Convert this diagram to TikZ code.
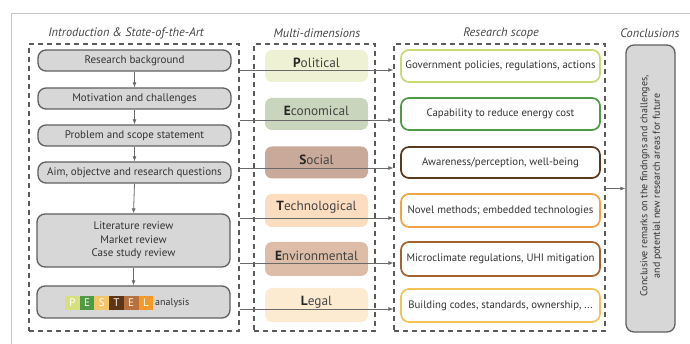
\documentclass[tikz,border=0pt]{standalone}
\usepackage{fontspec}
\setmainfont{PT Sans}
\usetikzlibrary{arrows.meta}
\definecolor{txt}{HTML}{333333}
\definecolor{ttl}{HTML}{444444}
\definecolor{dsh}{HTML}{5A5A5A}
\definecolor{gbox}{HTML}{D7D7D7}
\definecolor{gbord}{HTML}{606060}
\definecolor{cnn}{HTML}{6A6A6A}
\definecolor{fP}{HTML}{EEF1D4}
\definecolor{fE}{HTML}{C9D5BC}
\definecolor{fS}{HTML}{C9A999}
\definecolor{fT}{HTML}{FCDDC0}
\definecolor{fEn}{HTML}{DDBDA7}
\definecolor{fL}{HTML}{FDEBD1}
\definecolor{bP}{HTML}{C8DA72}
\definecolor{bE}{HTML}{4F9A45}
\definecolor{bS}{HTML}{5A3A1E}
\definecolor{bT}{HTML}{F0A442}
\definecolor{bEn}{HTML}{A5622C}
\definecolor{bL}{HTML}{F4C256}
\definecolor{sqP}{HTML}{D6E07C}
\definecolor{sqE}{HTML}{4F9A45}
\definecolor{sqS}{HTML}{F4C66A}
\definecolor{sqT}{HTML}{5C3514}
\definecolor{sqEn}{HTML}{B8703C}
\definecolor{sqL}{HTML}{F39A2A}
\tikzset{
  dashbox/.style={draw=dsh, line width=1.3pt, dash pattern=on 5pt off 4pt, minimum width=#1, inner sep=0pt},
  leftbox/.style={draw=gbord, fill=gbox, line width=1.3pt, rounded corners=8pt, text=txt, font=\fontsize{11}{13}\selectfont, minimum width=193pt, inner sep=0pt, align=center},
  dimbox/.style={fill=#1, rounded corners=7pt, minimum width=103pt, minimum height=32pt, inner sep=0pt},
  dimtext/.style={text=ttl, font=\fontsize{13.3}{15}\selectfont, inner sep=0pt},
  scopebox/.style={draw=#1, fill=white, line width=1.7pt, rounded corners=8pt, minimum width=199pt, minimum height=31pt, inner sep=0pt, text=txt, font=\fontsize{10.8}{12}\selectfont},
  coltitle/.style={text=ttl, font=\fontsize{12.3}{14}\selectfont\itshape, inner sep=0pt},
  conn/.style={draw=cnn, line width=0.8pt, -{Latex[length=5pt,width=4pt]}},
  sq/.style={fill=#1, text=white, minimum width=14.7pt, minimum height=14pt, inner sep=0pt, font=\fontsize{11}{12}\selectfont},
}
\begin{document}
\begin{tikzpicture}[x=1pt,y=-1pt]
\useasboundingbox (0,0) rectangle (690,344);
\draw[gray!45, line width=0.8pt] (11,344) -- (11,13) -- (690,13);

% column titles
\node[coltitle] (t1) at (126,33) {Introduction \& State-of-the-Art};
\node[coltitle] (t2) at (317,33) {Multi-dimensions};
\node[coltitle] (t3) at (501,33) {Research scope};
\node[coltitle] (t4) at (650,33) {Conclusions};

% dashed containers
\node[dashbox=210pt, minimum height=287pt] (L) at (134,187.5) {};
\node[dashbox=121pt, minimum height=287pt] (M) at (314.5,187.5) {};
\node[dashbox=211pt, minimum height=287pt] (R) at (499.5,187.5) {};

% left boxes
\node[leftbox, minimum height=21pt] (b1) at (134.5,60.5) {Research background};
\node[leftbox, minimum height=21pt] (b2) at (134.5,98.5) {Motivation and challenges};
\node[leftbox, minimum height=21pt] (b3) at (134.5,135.5) {Problem and scope statement};
\node[leftbox, minimum height=21pt] (b4) at (134.5,172.5) {Aim, objectve and research questions};
\node[leftbox, minimum height=53pt] (b5) at (133.5,240.5) {Literature review\\[0.5pt]Market review\\[0.5pt]Case study review};
\node[leftbox, minimum height=32pt] (b6) at (133.5,302) {};
\foreach \l/\c [count=\i] in {P/sqP,E/sqE,S/sqS,T/sqT,E/sqEn,L/sqL}{
  \node[sq=\c] (q\i) at ({65+14.7*(\i-0.5)},303) {\l};
}
\node[text=txt, font=\fontsize{10}{11}\selectfont, anchor=west, inner sep=0pt] (an) at (155,303) {analysis};

\foreach \a/\b in {b1/b2,b2/b3,b3/b4,b4/b5,b5/b6}{
  \draw[conn] (\a.south) -- (\b.north);
}

% dimensions
\node[dimbox=fP] (dP) at (316.5,66) {};
\node[dimbox=fE] (dE) at (316.5,114) {};
\node[dimbox=fS] (dS) at (316.5,162.5) {};
\node[dimbox=fT, minimum height=33pt] (dT) at (316.5,210.5) {};
\node[dimbox=fEn, minimum height=34pt] (dEn) at (316.5,259) {};
\node[dimbox=fL, minimum height=34pt] (dL) at (316.5,305) {};
\node[dimtext] (xP) at (316.5,63) {\textcolor{black!85}{\textbf{P}}olitical};
\node[dimtext] (xE) at (316.5,111) {\textcolor{black!85}{\textbf{E}}conomical};
\node[dimtext] (xS) at (316.5,159.5) {\textcolor{black!85}{\textbf{S}}ocial};
\node[dimtext] (xT) at (316.5,207.5) {\textcolor{black!85}{\textbf{T}}echnological};
\node[dimtext] (xEn) at (316.5,256) {\textcolor{black!85}{\textbf{E}}nvironmental};
\node[dimtext] (xL) at (316.5,302) {\textcolor{black!85}{\textbf{L}}egal};

% scope boxes
\node[scopebox=bP, minimum height=32pt] (sP) at (500.5,66) {Government policies, regulations, actions};
\node[scopebox=bE, minimum height=32pt] (sE) at (500.5,114) {Capability to reduce energy cost};
\node[scopebox=bS] (sS) at (500.5,162.5) {Awareness/perception, well-being};
\node[scopebox=bT, minimum height=33pt] (sT) at (500.5,210.5) {Novel methods; embedded technologies};
\node[scopebox=bEn, minimum height=34pt] (sEn) at (500.5,259) {Microclimate regulations, UHI mitigation};
\node[scopebox=bL, minimum height=33pt] (sL) at (500.5,305.5) {Building codes, standards, ownership, ...};

% conclusions
\node[draw=gbord, fill=gbox, line width=1.3pt, rounded corners=8pt, minimum width=49pt, minimum height=287pt, inner sep=0pt] (C) at (650.5,188.5) {};
\node[rotate=90, text=txt, font=\fontsize{10}{12.5}\selectfont, align=center, inner sep=0pt] (Ct) at (651,186) {Conclusive remarks on the findngns and challenges,\\and potential new research areas for future};

% connectors
\foreach \y/\n in {70/rP,120/rE,168/rS,218/rT,263/rEn,309/rL}{
  \coordinate (\n) at (0,\y);
}
\foreach \n in {rP,rE,rS,rT,rEn,rL}{
  \draw[conn] (L.east |- \n) -- (R.west |- \n);
}
\draw[conn] (R.east |- C.west) -- (C.west);
\end{tikzpicture}
\end{document}
